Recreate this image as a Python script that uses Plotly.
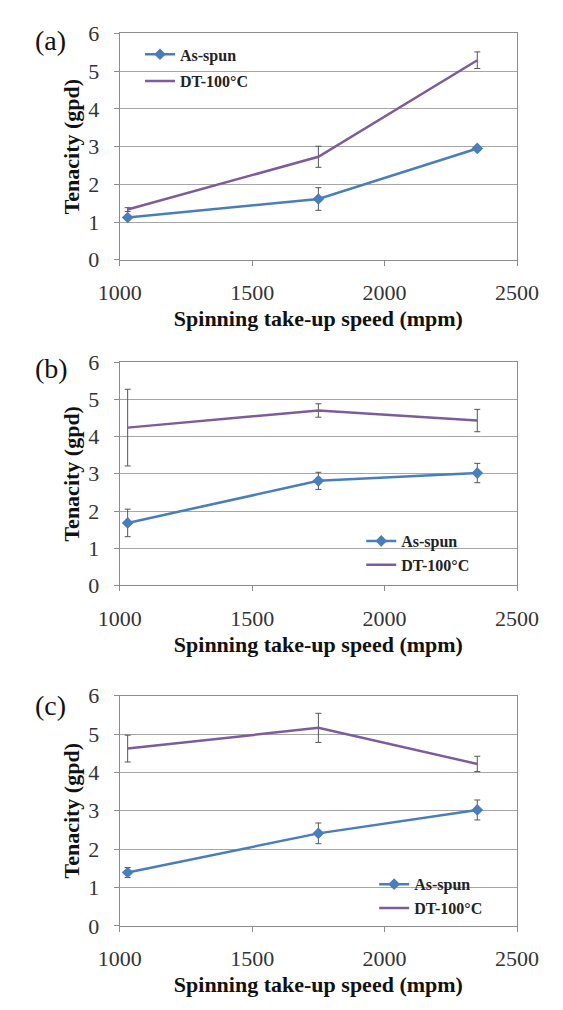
import plotly.graph_objects as go

speed = [1030, 1750, 2350]

# Panel (a)
a_asspun = [1.12, 1.61, 2.95]
a_asspun_err = [0.05, 0.30, 0.05]
a_dt = [1.33, 2.73, 5.29]
a_dt_err = [0.05, 0.28, 0.22]

# Panel (b)
b_asspun = [1.68, 2.81, 3.02]
b_asspun_err = [0.37, 0.23, 0.26]
b_dt = [4.24, 4.70, 4.43]
b_dt_err = [1.03, 0.18, 0.30]

# Panel (c)
c_asspun = [1.39, 2.41, 3.02]
c_asspun_err = [0.13, 0.27, 0.26]
c_dt = [4.62, 5.16, 4.22]
c_dt_err = [0.35, 0.38, 0.20]

panel_labels = ["(a)", "(b)", "(c)"]
series_names = ["As-spun", "DT-100°C"]
x_title = "Spinning take-up speed (mpm)"
y_title = "Tenacity (gpd)"

BLUE = "#4a7ebb"
PURPLE = "#7d5c9e"
SERIF = "Liberation Serif, Times New Roman, serif"

W, H = 563, 1010
x0, x1 = 106 / W, 537 / W
panels_px = [(22, 254), (359, 588), (701, 937)]
ydomains = [(1 - b / H, 1 - t / H) for t, b in panels_px]
label_centers = [29, 366, 711]

data = [
    (a_asspun, a_asspun_err, a_dt, a_dt_err),
    (b_asspun, b_asspun_err, b_dt, b_dt_err),
    (c_asspun, c_asspun_err, c_dt, c_dt_err),
]

legend_pos = [(128, 26, 3), (368, 525, 0), (382, 877, 0)]

fig = go.Figure()
layout = {}
for i, (asp, asp_e, dt, dt_e) in enumerate(data):
    n = "" if i == 0 else str(i + 1)
    xa, ya = "x" + n, "y" + n
    leg = "legend" if i == 0 else "legend" + str(i + 1)
    fig.add_trace(go.Scatter(
        x=speed, y=asp, name=series_names[0], mode="lines+markers",
        line=dict(color=BLUE, width=2.5),
        marker=dict(symbol="diamond", size=9, color=BLUE),
        error_y=dict(type="data", array=asp_e, color="#555555", thickness=1, width=3),
        xaxis=xa, yaxis=ya, legend=leg, legendgroup="g%d_1" % i,
    ))
    fig.add_trace(go.Scatter(
        x=speed, y=dt, name=series_names[1], mode="lines",
        line=dict(color=PURPLE, width=2.5),
        error_y=dict(type="data", array=dt_e, color="#555555", thickness=1, width=3),
        xaxis=xa, yaxis=ya, legend=leg, legendgroup="g%d_2" % i,
    ))
    axis_common = dict(
        showline=True, linecolor="#8c8c8c", linewidth=1, mirror=True,
        ticks="outside", ticklen=5, tickcolor="#8c8c8c",
        tickfont=dict(family=SERIF, size=22, color="#333333"),
        zeroline=False,
    )
    layout["xaxis" + n] = dict(
        domain=[x0, x1], anchor=ya, range=[1000, 2500], dtick=500, tick0=1000,
        showgrid=False, ticklabelstandoff=8,
        title=dict(text="<b>" + x_title + "</b>", font=dict(family=SERIF, size=22, color="#111111"), standoff=6),
        **axis_common,
    )
    layout["yaxis" + n] = dict(
        domain=list(ydomains[i]), anchor=xa, range=[0, 6], dtick=1,
        showgrid=True, gridcolor="#a6a6a6", gridwidth=1, ticklabelstandoff=10,
        title=dict(text="<b>" + y_title + "</b>", font=dict(family=SERIF, size=22, color="#111111"), standoff=2),
        **axis_common,
    )
    lx, ly, gap = legend_pos[i]
    layout[leg] = dict(
        x=lx / W, y=1 - ly / H, xanchor="left", yanchor="top",
        bgcolor="rgba(0,0,0,0)", borderwidth=0,
        font=dict(family=SERIF, size=16, color="#222222", weight="bold"),
        itemwidth=30, tracegroupgap=gap,
    )

annotations = []
for i, lab in enumerate(panel_labels):
    annotations.append(dict(
        text=lab, x=12 / W, y=1 - label_centers[i] / H, xref="paper", yref="paper",
        xanchor="left", yanchor="middle", showarrow=False,
        font=dict(family=SERIF, size=28, color="#111111"),
    ))

fig.update_layout(
    width=W, height=H, margin=dict(l=0, r=0, t=0, b=0),
    paper_bgcolor="white", plot_bgcolor="white",
    annotations=annotations, **layout,
)

fig.write_html("out.html")
